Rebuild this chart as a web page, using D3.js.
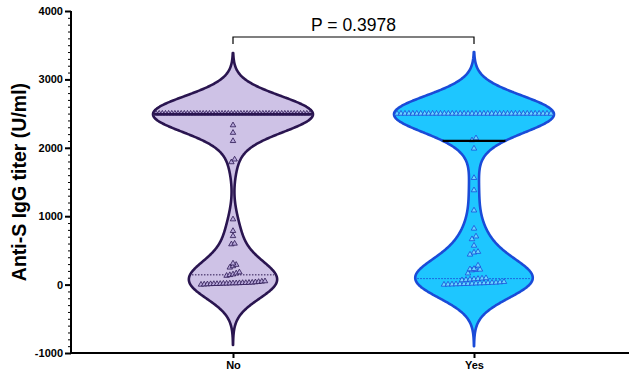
<!DOCTYPE html>
<html>
<head>
<meta charset="utf-8">
<script src="https://cdn.jsdelivr.net/npm/d3@7"></script>
<style>
  body { margin: 0; background: #fff; }
  text { font-family: Arial, "Liberation Sans", sans-serif; }
</style>
</head>
<body>
<svg id="chart" width="629" height="381"></svg>
<script>
// Groups and their titers (U/ml)
const categories = ["No", "Yes"];

const noValues = [
  2500, 2500, 2500, 2500, 2500, 2500, 2500, 2500, 2500, 2500,
  2500, 2500, 2500, 2500, 2500, 2500, 2500, 2500, 2500, 2500,
  2500, 2500, 2500, 2500, 2500, 2500, 2500, 2500, 2500, 2500,
  2500, 2500, 2500, 2500, 2500, 2500, 2500, 2500, 2500, 2500,
  2500, 2500, 2500, 2500, 2500, 2500, 2500, 2500, 2500, 2500,
  2330, 2220, 2100, 1830, 1790,
  955, 785, 710, 600, 590,
  310, 290, 270, 250,
  180, 165, 150, 140, 130,
  50, 45, 40, 35, 30, 28, 25, 25, 22, 20, 20,
  18, 15, 15, 12, 10, 10, 8, 5, 3, 0
];

const yesValues = [
  2500, 2500, 2500, 2500, 2500, 2500, 2500, 2500, 2500, 2500,
  2500, 2500, 2500, 2500, 2500, 2500, 2500, 2500, 2500, 2500,
  2500, 2500, 2500, 2500, 2500, 2500, 2500, 2500, 2500, 2500,
  2500, 2500, 2500, 2500, 2500, 2500, 2500, 2500, 2500, 2500,
  2140, 2110,
  1990, 1560, 1380, 1085, 820, 705, 665, 570, 480, 470, 440,
  280, 230, 225, 220, 215, 210, 165,
  95, 90, 85, 80, 75, 70, 65,
  40, 35, 30, 28, 25, 22, 20, 18, 15, 12, 10, 8, 6, 4, 2, 0
];

const groupValues = { No: noValues, Yes: yesValues };

const yTicks = [-1000, 0, 1000, 2000, 3000, 4000];
const yMinorStep = 100;
const pLabel = "P = 0.3978";
const yTitle = "Anti-S IgG titer (U/ml)";

// Per-group look
const looks = {
  No:  { fill: "#cec2e6", stroke: "#2a1550", median: "#2a1550", mark: "#2a1550", markFill: "#b9a9dc", gap: 3.2, bw: 260 },
  Yes: { fill: "#1ec6ff", stroke: "#1a4bd8", median: "#000000", mark: "#1a4bd8", markFill: "#6cd8ff", gap: 4.0, bw: 265 }
};
const maxHalfWidth = 80;
const tailReach = 3.4;

const svg = d3.select("#chart");
const y = d3.scaleLinear().domain([-1000, 4000]).range([353, 11]);
const x = d3.scalePoint().domain(categories).range([233, 474]);

// Y axis: major and minor ticks
const yAxisG = svg.append("g").attr("transform", "translate(71,0)");
yAxisG.call(d3.axisLeft(y).tickValues(d3.range(-1000, 4001, yMinorStep)).tickSize(3).tickFormat(""))
  .call(g => g.select(".domain").remove())
  .call(g => g.selectAll("line").attr("stroke", "#000").attr("stroke-width", 1));
yAxisG.append("g")
  .call(d3.axisLeft(y).tickValues(yTicks).tickSize(6).tickPadding(2).tickFormat(d => String(d)))
  .call(g => g.select(".domain").remove())
  .call(g => g.selectAll("line").attr("stroke", "#000").attr("stroke-width", 2))
  .call(g => g.selectAll("text").attr("fill", "#000").attr("font-size", 11).attr("font-weight", "bold")
    .style("font-family", "Arial, 'Liberation Sans', sans-serif"));
yAxisG.append("line").attr("x1", 0).attr("x2", 0).attr("y1", y(4000)).attr("y2", y(-1000) + 1)
  .attr("stroke", "#000").attr("stroke-width", 2);

// X axis
const xAxisG = svg.append("g").attr("transform", `translate(0,${y(-1000)})`);
xAxisG.append("line").attr("x1", 70).attr("x2", 629).attr("y1", 0).attr("y2", 0)
  .attr("stroke", "#000").attr("stroke-width", 2);
xAxisG.append("g")
  .call(d3.axisBottom(x).tickSize(5).tickPadding(3))
  .call(g => g.select(".domain").remove())
  .call(g => g.selectAll("line").attr("stroke", "#000").attr("stroke-width", 2))
  .call(g => g.selectAll("text").attr("fill", "#000").attr("font-size", 11).attr("font-weight", "bold")
    .style("font-family", "Arial, 'Liberation Sans', sans-serif"));

// Y title
svg.append("text")
  .attr("transform", `translate(26,${(y(4000) + y(-1000)) / 2}) rotate(-90)`)
  .attr("text-anchor", "middle")
  .attr("font-size", 19.5).attr("font-weight", "bold")
  .text(yTitle);

// Gaussian kernel density of a sample
function density(values, bw) {
  return v => d3.sum(values, xi => Math.exp(-0.5 * ((v - xi) / bw) ** 2));
}

categories.forEach(cat => {
  const vals = groupValues[cat].slice().sort(d3.ascending);
  const look = looks[cat];
  const cx = x(cat);
  const dens = density(vals, look.bw);
  const lo = d3.min(vals) - tailReach * look.bw;
  const hi = d3.max(vals) + tailReach * look.bw;
  const grid = d3.range(lo, hi, 4).concat([hi]);
  const peak = d3.max(grid, dens);
  const half = v => maxHalfWidth * dens(v) / peak;

  const g = svg.append("g");

  // Violin body
  g.append("path")
    .datum(grid)
    .attr("d", d3.area()
      .y(v => y(v))
      .x0(v => cx - half(v))
      .x1(v => cx + half(v))
      .curve(d3.curveBasis))
    .attr("fill", look.fill)
    .attr("stroke", look.stroke)
    .attr("stroke-width", 2.6)
    .attr("stroke-linejoin", "round");

  // Quartiles (dotted)
  const q1 = d3.quantile(vals, 0.25);
  const med = d3.quantile(vals, 0.5);
  const q3 = d3.quantile(vals, 0.75);
  [q1, q3].forEach(q => {
    g.append("line")
      .attr("x1", cx - half(q) + 2).attr("x2", cx + half(q) - 2)
      .attr("y1", y(q)).attr("y2", y(q))
      .attr("stroke", look.mark).attr("stroke-width", 1)
      .attr("stroke-dasharray", "1.5,1.5");
  });

  // Scatter: group points into rows a few pixels tall, spread each row sideways
  const rows = [];
  vals.forEach(v => {
    const last = rows[rows.length - 1];
    if (last && Math.abs(y(last[0]) - y(v)) < 4) last.push(v);
    else rows.push([v]);
  });
  const pts = [];
  rows.forEach(row => {
    const n = row.length;
    const avail = 2 * half(d3.mean(row)) - 6;
    const s = n > 1 ? Math.min(look.gap, avail / (n - 1)) : 0;
    row.forEach((v, i) => pts.push({ v, dx: (i - (n - 1) / 2) * s }));
  });
  g.selectAll("path.pt")
    .data(pts)
    .join("path")
    .attr("class", "pt")
    .attr("transform", d => `translate(${cx + d.dx},${y(d.v)})`)
    .attr("d", d3.symbol(d3.symbolTriangle, 13))
    .attr("fill", look.markFill)
    .attr("stroke", look.mark)
    .attr("stroke-width", 0.8);

  // Median (solid), drawn over the points
  g.append("line")
    .attr("x1", cx - half(med) + 1).attr("x2", cx + half(med) - 1)
    .attr("y1", y(med) + 0.5).attr("y2", y(med) + 0.5)
    .attr("stroke", look.median).attr("stroke-width", 2.2);
});

// Comparison bracket
const bracketY = 37;
svg.append("path")
  .attr("d", `M${x("No")},${bracketY + 7}V${bracketY}H${x("Yes")}V${bracketY + 7}`)
  .attr("fill", "none").attr("stroke", "#000").attr("stroke-width", 1.2);
svg.append("text")
  .attr("x", (x("No") + x("Yes")) / 2).attr("y", 31)
  .attr("text-anchor", "middle").attr("font-size", 17.5)
  .text(pLabel);
</script>
</body>
</html>
